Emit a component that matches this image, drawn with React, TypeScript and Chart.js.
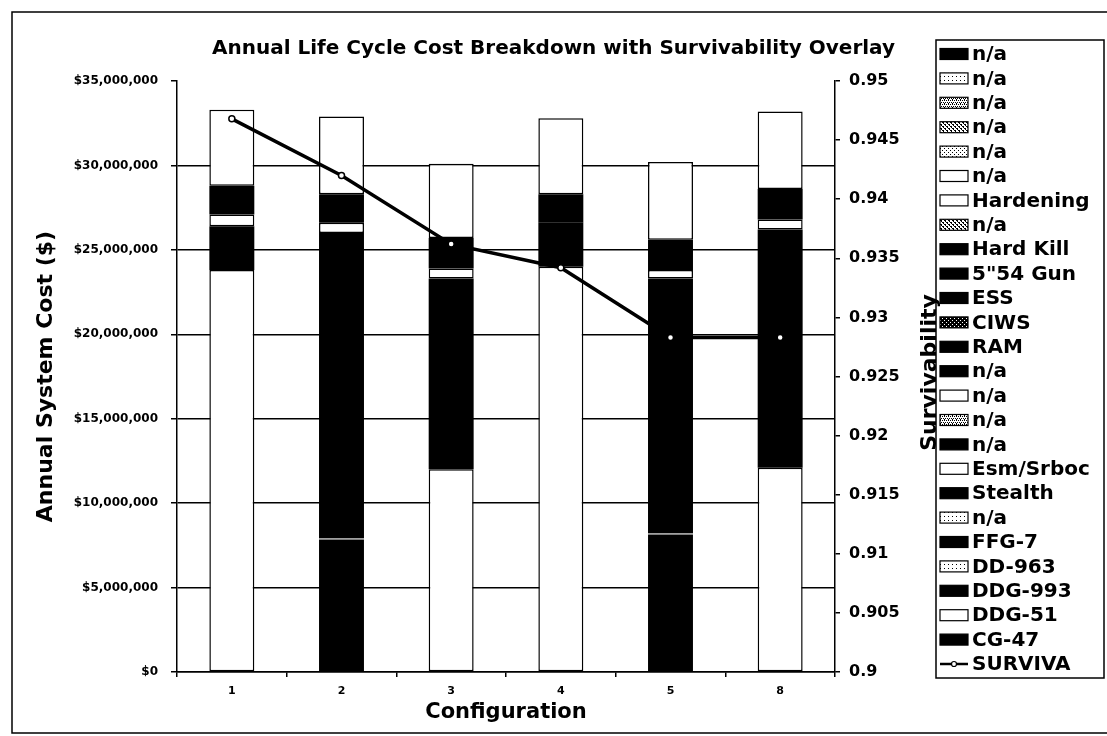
import React, { useEffect, useRef } from 'react';
import { Chart, registerables } from 'chart.js';

Chart.register(...registerables);

// ---------- data (millions of dollars, survivability fraction) ----------
const configurations = ['1', '2', '3', '4', '5', '8'];

const cg47 = [null, 7.9, null, null, 8.2, null];
const ddg51 = [23.8, null, null, 24.0, null, null];
const ddg993 = [null, 18.1, null, null, 15.1, null];
const dd963 = [null, null, 12.0, null, null, 12.1];
const ffg7 = [null, null, 11.3, null, null, 14.1];
const stealth = [2.6, null, null, 2.6, null, null];
const esmSrboc = [0.7, 0.6, 0.6, null, 0.5, 0.6];
const hardKill = [1.7, 1.7, 1.8, 1.7, 1.8, 1.8];
const hardening = [4.5, 4.6, 4.4, 4.5, 4.6, 4.6];
const empty = [null, null, null, null, null, null];

const survivability = [0.9468, 0.942, 0.9362, 0.9342, 0.9283, 0.9283];

type Swatch = 'black' | 'white' | 'light' | 'dots' | 'dense' | 'cross' | 'blackdots';

// stacking order, bottom first
const seriesList: { label: string; values: (number | null)[]; swatch: Swatch }[] = [
  { label: 'CG-47', values: cg47, swatch: 'black' },
  { label: 'DDG-51', values: ddg51, swatch: 'white' },
  { label: 'DDG-993', values: ddg993, swatch: 'black' },
  { label: 'DD-963', values: dd963, swatch: 'light' },
  { label: 'FFG-7', values: ffg7, swatch: 'black' },
  { label: 'n/a', values: empty, swatch: 'light' },
  { label: 'Stealth', values: stealth, swatch: 'black' },
  { label: 'Esm/Srboc', values: esmSrboc, swatch: 'white' },
  { label: 'n/a', values: empty, swatch: 'black' },
  { label: 'n/a', values: empty, swatch: 'dense' },
  { label: 'n/a', values: empty, swatch: 'white' },
  { label: 'n/a', values: empty, swatch: 'black' },
  { label: 'RAM', values: empty, swatch: 'black' },
  { label: 'CIWS', values: empty, swatch: 'blackdots' },
  { label: 'ESS', values: empty, swatch: 'black' },
  { label: '5"54 Gun', values: empty, swatch: 'black' },
  { label: 'Hard Kill', values: hardKill, swatch: 'black' },
  { label: 'n/a', values: empty, swatch: 'cross' },
  { label: 'Hardening', values: hardening, swatch: 'white' },
  { label: 'n/a', values: empty, swatch: 'white' },
  { label: 'n/a', values: empty, swatch: 'dots' },
  { label: 'n/a', values: empty, swatch: 'cross' },
  { label: 'n/a', values: empty, swatch: 'dense' },
  { label: 'n/a', values: empty, swatch: 'light' },
  { label: 'n/a', values: empty, swatch: 'black' },
];

const FONT = "'DejaVu Sans', 'Liberation Sans', sans-serif";

function makeSwatchFill(ctx: CanvasRenderingContext2D, swatch: Swatch): any {
  if (swatch === 'black') return '#000';
  if (swatch === 'white') return '#fff';
  const c = document.createElement('canvas');
  c.width = 4;
  c.height = 4;
  const p = c.getContext('2d')!;
  const bg = swatch === 'blackdots' ? '#000' : '#fff';
  const fg = swatch === 'blackdots' ? '#fff' : '#000';
  p.fillStyle = bg;
  p.fillRect(0, 0, 4, 4);
  p.fillStyle = fg;
  if (swatch === 'light') {
    p.fillRect(0, 0, 1, 1);
  } else if (swatch === 'dots' || swatch === 'blackdots') {
    p.fillRect(0, 0, 1, 1);
    p.fillRect(2, 2, 1, 1);
  } else if (swatch === 'dense') {
    p.fillRect(0, 0, 1, 1);
    p.fillRect(2, 0, 1, 1);
    p.fillRect(1, 2, 1, 1);
    p.fillRect(3, 2, 1, 1);
    p.fillRect(0, 3, 1, 1);
  } else if (swatch === 'cross') {
    p.fillRect(0, 0, 2, 1);
    p.fillRect(2, 2, 2, 1);
    p.fillRect(1, 1, 1, 1);
    p.fillRect(3, 3, 1, 1);
  }
  return ctx.createPattern(c, 'repeat');
}

const decorPlugin = {
  id: 'decor',
  beforeDraw(chart: any) {
    const ctx: CanvasRenderingContext2D = chart.ctx;
    ctx.save();
    ctx.fillStyle = '#fff';
    ctx.fillRect(0, 0, chart.width, chart.height);
    // outer frame (left, top, bottom)
    ctx.strokeStyle = '#000';
    ctx.lineWidth = 1.5;
    ctx.beginPath();
    ctx.moveTo(chart.width, 12);
    ctx.lineTo(12, 12);
    ctx.lineTo(12, 733);
    ctx.lineTo(chart.width, 733);
    ctx.stroke();
    ctx.restore();
  },
  afterDraw(chart: any) {
    const ctx: CanvasRenderingContext2D = chart.ctx;
    const area = chart.chartArea;
    ctx.save();
    // right axis title, reading bottom to top
    ctx.translate(area.right + 95, (area.top + area.bottom) / 2 - 4);
    ctx.rotate(-Math.PI / 2);
    ctx.font = `bold 22px ${FONT}`;
    ctx.fillStyle = '#000';
    ctx.textAlign = 'center';
    ctx.textBaseline = 'middle';
    ctx.fillText('Survivability', 0, 0);
    ctx.restore();

    // legend box
    const datasets = chart.data.datasets;
    const left = 936;
    const top = 40;
    const right = 1104;
    const bottom = 678;
    const first = 54;
    const step = 24.4;
    ctx.save();
    ctx.strokeStyle = '#000';
    ctx.lineWidth = 1.5;
    ctx.strokeRect(left, top, right - left, bottom - top);
    ctx.font = `bold 20px ${FONT}`;
    ctx.textBaseline = 'middle';
    ctx.textAlign = 'left';
    const order: number[] = [];
    for (let i = datasets.length - 1; i >= 1; i--) order.push(i);
    order.push(0);
    order.forEach((di, k) => {
      const ds = datasets[di];
      const cy = first + step * k;
      if (ds.type === 'line') {
        ctx.strokeStyle = '#000';
        ctx.lineWidth = 2.5;
        ctx.beginPath();
        ctx.moveTo(940, cy);
        ctx.lineTo(968, cy);
        ctx.stroke();
        ctx.beginPath();
        ctx.arc(954, cy, 2.5, 0, Math.PI * 2);
        ctx.fillStyle = '#fff';
        ctx.fill();
        ctx.lineWidth = 1.2;
        ctx.stroke();
      } else {
        ctx.fillStyle = ds.legendFill;
        ctx.fillRect(940, cy - 5.5, 28, 11);
        ctx.strokeStyle = '#000';
        ctx.lineWidth = 1.2;
        ctx.strokeRect(940, cy - 5.5, 28, 11);
      }
      ctx.fillStyle = '#000';
      ctx.fillText(ds.label, 972, cy + 1);
    });
    ctx.restore();
  },
};

export default function App() {
  const canvasRef = useRef<HTMLCanvasElement | null>(null);

  useEffect(() => {
    const canvas = canvasRef.current;
    if (!canvas) return;
    const ctx = canvas.getContext('2d')!;
    Chart.defaults.font.family = FONT;
    Chart.defaults.color = '#000';

    const barSets = seriesList.map((s) => {
      const isWhite = s.swatch === 'white' || s.swatch === 'light';
      const isBottomBlack = s.label === 'CG-47';
      return {
        type: 'bar' as const,
        label: s.label,
        data: s.values.map((v) => (v == null ? null : v * 1e6)),
        yAxisID: 'y',
        stack: 'cost',
        backgroundColor: isWhite ? '#fff' : '#000',
        borderColor: isWhite ? '#000' : isBottomBlack ? '#fff' : '#000',
        borderWidth: isWhite
          ? 1.5
          : isBottomBlack
          ? { top: 1, right: 0, bottom: 0, left: 0 }
          : 0,
        borderSkipped: false as const,
        categoryPercentage: 0.41,
        barPercentage: 1,
        legendFill: makeSwatchFill(ctx, s.swatch),
      };
    });

    const chart = new Chart(canvas, {
      type: 'bar',
      data: {
        labels: configurations,
        datasets: [
          {
            type: 'line' as const,
            label: 'SURVIVA',
            data: survivability,
            yAxisID: 'y1',
            borderColor: '#000',
            borderWidth: 3.5,
            pointRadius: 3,
            pointBackgroundColor: '#fff',
            pointBorderColor: '#000',
            pointBorderWidth: 1.5,
            tension: 0,
          } as any,
          ...(barSets as any[]),
        ],
      },
      options: {
        responsive: false,
        animation: false,
        devicePixelRatio: 1,
        layout: { padding: { left: 0, right: 0, top: 0, bottom: 0 } },
        plugins: {
          legend: { display: false },
          tooltip: { enabled: false },
          title: {
            display: true,
            text: 'Annual Life Cycle Cost Breakdown with Survivability Overlay',
            color: '#000',
            font: { family: FONT, size: 20, weight: 'bold' },
            padding: { top: 37, bottom: 20 },
          },
        },
        scales: {
          x: {
            stacked: true,
            offset: true,
            grid: {
              display: true,
              drawOnChartArea: false,
              drawTicks: true,
              tickLength: 5,
              color: '#000',
              lineWidth: 1.5,
              offset: true,
            },
            border: { display: true, color: '#000', width: 1.5 },
            ticks: { color: '#000', font: { family: FONT, size: 11, weight: 'bold' }, padding: 8 },
            title: {
              display: true,
              text: 'Configuration',
              color: '#000',
              font: { family: FONT, size: 21, weight: 'bold' },
              padding: { top: 0, bottom: 11 },
            },
            afterFit: (s: any) => {
              s.height = 64;
            },
          },
          y: {
            stacked: true,
            min: 0,
            max: 35e6,
            ticks: {
              stepSize: 5e6,
              color: '#000',
              padding: 13,
              font: { family: FONT, size: 12, weight: 'bold' },
              callback: (v: any) => '$' + Number(v).toLocaleString('en-US'),
            },
            grid: {
              color: (c: any) => (c.tick && c.tick.value === 35e6 ? 'rgba(0,0,0,0)' : '#000'),
              tickColor: '#000',
              lineWidth: 1.5,
              tickLength: 6,
            },
            border: { display: true, color: '#000', width: 1.5 },
            title: {
              display: true,
              text: 'Annual System Cost ($)',
              color: '#000',
              font: { family: FONT, size: 22, weight: 'bold' },
              padding: { top: 33, bottom: 0 },
            },
            afterFit: (s: any) => {
              s.width = 177;
            },
          },
          y1: {
            position: 'right',
            min: 0.9,
            max: 0.95,
            ticks: {
              stepSize: 0.005,
              color: '#000',
              padding: 9,
              font: { family: FONT, size: 16, weight: 'bold' },
              callback: (v: any) => String(parseFloat(Number(v).toFixed(3))),
            },
            grid: { drawOnChartArea: false, color: '#000', lineWidth: 1.5, tickLength: 5 },
            border: { display: true, color: '#000', width: 1.5 },
            afterFit: (s: any) => {
              s.width = 272;
            },
          },
        },
      } as any,
      plugins: [decorPlugin],
    });

    return () => {
      chart.destroy();
    };
  }, []);

  return (
    <div style={{ position: 'fixed', left: 0, top: 0, width: 1107, height: 736, background: '#fff' }}>
      <canvas ref={canvasRef} width={1107} height={736} style={{ width: 1107, height: 736, display: 'block' }} />
    </div>
  );
}
